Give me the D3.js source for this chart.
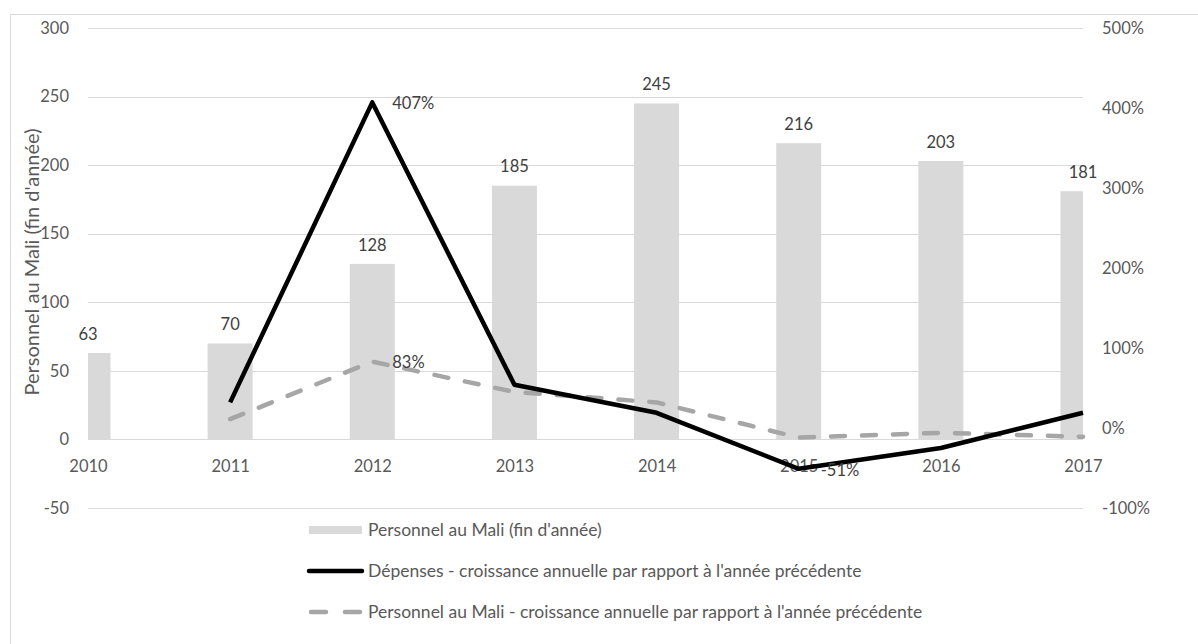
<!DOCTYPE html>
<html>
<head>
<meta charset="utf-8">
<script src="https://cdn.jsdelivr.net/npm/d3@7"></script>
<style>
  html, body { margin: 0; padding: 0; background: #fff; }
  svg { display: block; font-family: Lato, "Open Sans", sans-serif; }
</style>
</head>
<body>
<svg id="chart" width="1198" height="644"></svg>
<script>
const years = ["2010", "2011", "2012", "2013", "2014", "2015", "2016", "2017"];
const personnel = [63, 70, 128, 185, 245, 216, 203, 181];
const depensesGrowth = [null, 0.32, 4.07, 0.54, 0.19, -0.51, -0.25, 0.19];
const personnelGrowth = [null, 0.11, 0.83, 0.45, 0.32, -0.12, -0.06, -0.11];
const leftTicks = [-50, 0, 50, 100, 150, 200, 250, 300];
const rightTicks = [-1, 0, 1, 2, 3, 4, 5];
const labelledDepenses = ["2012", "2015"];
const labelledPersonnelGrowth = ["2012"];
const legendLabels = [
  "Personnel au Mali (fin d'année)",
  "Dépenses - croissance annuelle par rapport à l'année précédente",
  "Personnel au Mali - croissance annuelle par rapport à l'année précédente"
];
const yTitle = "Personnel au Mali (fin d'année)";

const svg = d3.select("#chart");
const plotLeft = 88, plotRight = 1083, plotTop = 28, plotBottom = 508;
const FS = "16.5px";

const x = d3.scalePoint().domain(years).range([plotLeft, plotRight]);
const yL = d3.scaleLinear().domain([-50, 300]).range([plotBottom, plotTop]);
const yR = d3.scaleLinear().domain([-1, 5]).range([plotBottom, plotTop]);
const barW = 45;

// border
svg.append("path")
  .attr("d", `M10.5,650 L10.5,14.5 L1210,14.5`)
  .attr("fill", "none").attr("stroke", "#d9d9d9").attr("stroke-width", 1);

// clip for plot
svg.append("clipPath").attr("id", "plotclip")
  .append("rect").attr("x", plotLeft).attr("y", 0).attr("width", plotRight - plotLeft).attr("height", 644);

// gridlines
svg.append("g").selectAll("line").data(leftTicks).join("line")
  .attr("x1", plotLeft).attr("x2", plotRight)
  .attr("y1", d => Math.round(yL(d)) + 0.5).attr("y2", d => Math.round(yL(d)) + 0.5)
  .attr("stroke", "#d9d9d9").attr("stroke-width", 1);

// left axis
const leftAxis = d3.axisLeft(yL).tickValues(leftTicks).tickSize(0).tickPadding(0)
  .tickFormat(d => String(d));
const gL = svg.append("g").attr("transform", `translate(69,0)`).call(leftAxis);
gL.select(".domain").remove();
gL.selectAll("text").attr("fill", "#595959").style("font-size", FS).style("font-family", "Lato, sans-serif");

// right axis
const rightAxis = d3.axisRight(yR).tickValues(rightTicks).tickSize(0).tickPadding(0)
  .tickFormat(d => Math.round(d * 100) + "%");
const gR = svg.append("g").attr("transform", `translate(1102,0)`).call(rightAxis);
gR.select(".domain").remove();
gR.selectAll("text").attr("fill", "#595959").style("font-size", FS).style("font-family", "Lato, sans-serif");

// bars
svg.append("g").attr("clip-path", "url(#plotclip)").selectAll("rect")
  .data(years.map((y, i) => ({ y, v: personnel[i] }))).join("rect")
  .attr("x", d => x(d.y) - barW / 2)
  .attr("width", barW)
  .attr("y", d => yL(d.v))
  .attr("height", d => yL(0) - yL(d.v))
  .attr("fill", "#d9d9d9");

// x axis labels
const xAxis = d3.axisBottom(x).tickSize(0).tickPadding(0);
const gX = svg.append("g").attr("transform", `translate(0,${yL(0) + 27})`).call(xAxis);
gX.select(".domain").remove();
gX.selectAll("text").attr("fill", "#595959").style("font-size", FS).style("font-family", "Lato, sans-serif")
  .attr("dy", "0.32em").attr("y", 0);

// bar labels
svg.append("g").selectAll("text")
  .data(years.map((y, i) => ({ y, v: personnel[i] }))).join("text")
  .attr("x", d => x(d.y))
  .attr("y", d => yL(d.v) - 19)
  .attr("dy", "0.35em")
  .attr("text-anchor", "middle")
  .attr("fill", "#404040")
  .style("font-size", FS)
  .text(d => d.v);

// lines
const depData = years.map((y, i) => ({ y, v: depensesGrowth[i] })).filter(d => d.v !== null);
const perData = years.map((y, i) => ({ y, v: personnelGrowth[i] })).filter(d => d.v !== null);
const line = d3.line().x(d => x(d.y)).y(d => yR(d.v));

svg.append("path").datum(perData)
  .attr("d", line)
  .attr("fill", "none").attr("stroke", "#a6a6a6").attr("stroke-width", 4.5)
  .attr("stroke-dasharray", "14,17").attr("stroke-linecap", "round").attr("stroke-linejoin", "round");

svg.append("path").datum(depData)
  .attr("d", line)
  .attr("fill", "none").attr("stroke", "#000").attr("stroke-width", 4.5)
  .attr("stroke-linecap", "butt").attr("stroke-linejoin", "round");

// line labels
const fmtPct = d => Math.round(d * 100) + "%";
svg.append("g").selectAll("text")
  .data(depData.filter(d => labelledDepenses.includes(d.y))).join("text")
  .attr("x", d => x(d.y) + (d.v < 0 ? 22 : 20))
  .attr("y", d => yR(d.v) + 1)
  .attr("dy", "0.35em")
  .attr("fill", "#404040").style("font-size", FS)
  .text(d => fmtPct(d.v));
svg.append("g").selectAll("text")
  .data(perData.filter(d => labelledPersonnelGrowth.includes(d.y))).join("text")
  .attr("x", d => x(d.y) + 20)
  .attr("y", d => yR(d.v) + 1)
  .attr("dy", "0.35em")
  .attr("fill", "#404040").style("font-size", FS)
  .text(d => fmtPct(d.v));

// y title
svg.append("text")
  .attr("transform", `translate(39,262) rotate(-90)`)
  .attr("text-anchor", "middle")
  .attr("fill", "#595959")
  .style("font-size", "20px")
  .text(yTitle);

// legend
const lg = svg.append("g");
const lx0 = 309, lx1 = 362, ltx = 368;
const ly = [530, 571, 612];
lg.append("rect").attr("x", lx0).attr("y", ly[0] - 4).attr("width", lx1 - lx0).attr("height", 8).attr("fill", "#d9d9d9");
lg.append("line").attr("x1", lx0).attr("x2", lx1).attr("y1", ly[1]).attr("y2", ly[1])
  .attr("stroke", "#000").attr("stroke-width", 4.5).attr("stroke-linecap", "round");
lg.append("line").attr("x1", lx0 + 2).attr("x2", lx1).attr("y1", ly[2]).attr("y2", ly[2])
  .attr("stroke", "#a6a6a6").attr("stroke-width", 4.5).attr("stroke-linecap", "round")
  .attr("stroke-dasharray", "15,19");
lg.selectAll("text").data(legendLabels).join("text")
  .attr("x", ltx).attr("y", (d, i) => ly[i]).attr("dy", "0.35em")
  .attr("fill", "#595959").style("font-size", "17.5px")
  .text(d => d);
</script>
</body>
</html>
